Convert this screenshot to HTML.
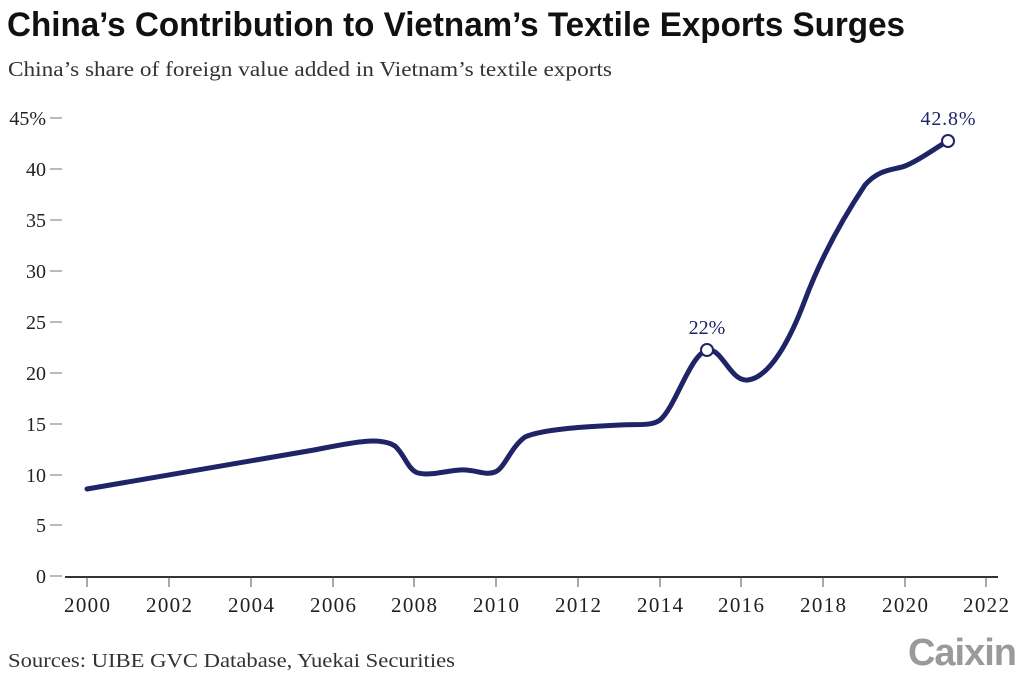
<!DOCTYPE html>
<html><head><meta charset="utf-8"><style>
body{margin:0;background:#fff;width:1024px;height:682px;overflow:hidden}
svg text{font-family:"Liberation Serif",serif}
</style></head><body>
<svg width="1024" height="682" viewBox="0 0 1024 682" xmlns="http://www.w3.org/2000/svg">
<text x="7" y="36" font-weight="bold" font-size="34" fill="#111" textLength="898" lengthAdjust="spacingAndGlyphs" style="font-family:'Liberation Sans',sans-serif">China’s Contribution to Vietnam’s Textile Exports Surges</text>
<text x="8" y="76" font-size="21" fill="#333" textLength="604" lengthAdjust="spacingAndGlyphs">China’s share of foreign value added in Vietnam’s textile exports</text>
<g font-size="20" fill="#222" text-anchor="end">
<text x="46" y="125">45%</text><text x="46" y="176">40</text><text x="46" y="227">35</text><text x="46" y="278">30</text><text x="46" y="329">25</text><text x="46" y="380">20</text><text x="46" y="431">15</text><text x="46" y="482">10</text><text x="46" y="532">5</text><text x="46" y="583">0</text>
</g>
<g stroke="#777" stroke-width="1">
<line x1="50" y1="118" x2="62" y2="118"/><line x1="50" y1="169" x2="62" y2="169"/><line x1="50" y1="220" x2="62" y2="220"/><line x1="50" y1="271" x2="62" y2="271"/><line x1="50" y1="322" x2="62" y2="322"/><line x1="50" y1="373" x2="62" y2="373"/><line x1="50" y1="424" x2="62" y2="424"/><line x1="50" y1="475" x2="62" y2="475"/><line x1="50" y1="525" x2="62" y2="525"/><line x1="50" y1="576" x2="62" y2="576"/>
</g>
<line x1="65" y1="577" x2="998" y2="577" stroke="#333" stroke-width="2"/>
<g stroke="#555" stroke-width="1">
<line x1="87" y1="577" x2="87" y2="587"/><line x1="169" y1="577" x2="169" y2="587"/><line x1="251" y1="577" x2="251" y2="587"/><line x1="333" y1="577" x2="333" y2="587"/><line x1="414" y1="577" x2="414" y2="587"/><line x1="496" y1="577" x2="496" y2="587"/><line x1="578" y1="577" x2="578" y2="587"/><line x1="660" y1="577" x2="660" y2="587"/><line x1="741" y1="577" x2="741" y2="587"/><line x1="823" y1="577" x2="823" y2="587"/><line x1="905" y1="577" x2="905" y2="587"/><line x1="986" y1="577" x2="986" y2="587"/>
</g>
<g font-size="21" fill="#222" text-anchor="middle">
<text x="87" y="612" textLength="46">2000</text><text x="169" y="612" textLength="46">2002</text><text x="251" y="612" textLength="46">2004</text><text x="333" y="612" textLength="46">2006</text><text x="414" y="612" textLength="46">2008</text><text x="496" y="612" textLength="46">2010</text><text x="578" y="612" textLength="46">2012</text><text x="660" y="612" textLength="46">2014</text><text x="741" y="612" textLength="46">2016</text><text x="823" y="612" textLength="46">2018</text><text x="905" y="612" textLength="46">2020</text><text x="986" y="612" textLength="46">2022</text>
</g>
<path d="M87,489 L314,450 C350,443 380,436 395,446 C405,455 408,470 418,473 C430,476 445,471 460,470 C475,469 485,476 495,472 C505,468 510,448 525,437 C545,428 600,426 620,425 C640,424 652,426 660,420 C675,408 690,355 707,350 C722,347 730,382 748,380 C770,377 790,340 805,300 C822,255 845,215 865,185 C880,168 895,170 905,166 C920,160 935,148 948,141" fill="none" stroke="#1f2466" stroke-width="5" stroke-linecap="round" stroke-linejoin="round"/>
<circle cx="707" cy="350" r="6" fill="#fff" stroke="#1f2466" stroke-width="2"/>
<circle cx="948" cy="141" r="6" fill="#fff" stroke="#1f2466" stroke-width="2"/>
<text x="707" y="334" font-size="20" fill="#1f2466" text-anchor="middle">22%</text>
<text x="948" y="125" font-size="20" fill="#1f2466" text-anchor="middle" textLength="55">42.8%</text>
<text x="8" y="667" font-size="20" fill="#333" textLength="447" lengthAdjust="spacingAndGlyphs">Sources: UIBE GVC Database, Yuekai Securities</text>
<text x="1016" y="665" font-size="38" font-weight="bold" fill="#9a9a9a" text-anchor="end" style="font-family:'Liberation Sans',sans-serif;letter-spacing:-1px">Caixin</text>
</svg>
</body></html>
